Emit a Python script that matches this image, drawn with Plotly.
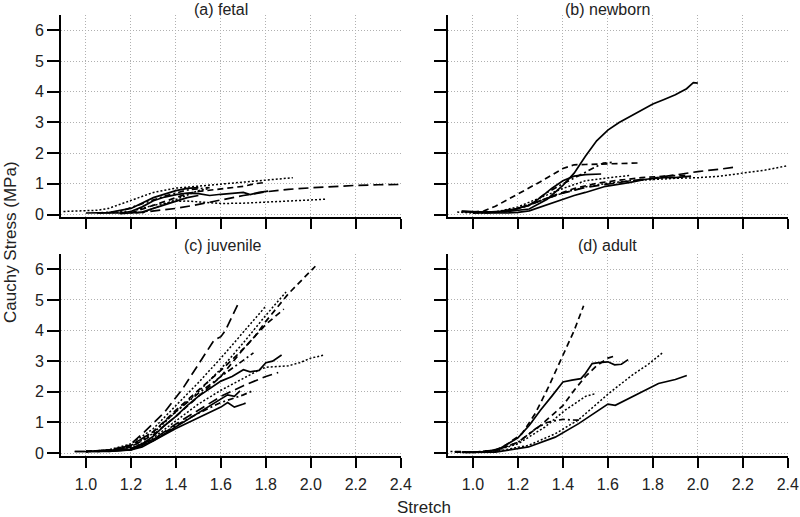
import plotly.graph_objects as go
from plotly.subplots import make_subplots

# ---------------- data ----------------
x_ticks = [1.0, 1.2, 1.4, 1.6, 1.8, 2.0, 2.2, 2.4]
y_ticks = [0, 1, 2, 3, 4, 5, 6]
panel_titles = ["(a) fetal", "(b) newborn", "(c) juvenile", "(d) adult"]
x_label = "Stretch"
y_label = "Cauchy Stress (MPa)"

# (a) fetal
fetal_1_x = [1.22, 1.3, 1.4, 1.48, 1.55, 1.6, 1.7, 1.8, 1.9, 2.0, 2.1, 2.2, 2.3, 2.4]
fetal_1_y = [0.05, 0.12, 0.2, 0.3, 0.4, 0.48, 0.62, 0.74, 0.82, 0.87, 0.92, 0.95, 0.97, 0.98]
fetal_2_x = [1.2, 1.3, 1.4, 1.46, 1.5, 1.6, 1.7, 1.75, 1.8]
fetal_2_y = [0.05, 0.3, 0.55, 0.7, 0.75, 0.83, 0.92, 1.0, 1.05]
fetal_3_x = [0.9, 1.0, 1.05, 1.1, 1.2, 1.3, 1.4, 1.5, 1.6, 1.7, 1.8, 1.92]
fetal_3_y = [0.1, 0.12, 0.14, 0.2, 0.45, 0.72, 0.86, 0.93, 1.0, 1.07, 1.12, 1.2]
fetal_4_x = [1.1, 1.2, 1.3, 1.4, 1.45, 1.5, 1.6, 1.7, 1.8, 1.9, 2.0, 2.07]
fetal_4_y = [0.05, 0.1, 0.3, 0.43, 0.44, 0.41, 0.36, 0.37, 0.41, 0.45, 0.48, 0.5]
fetal_5_x = [1.05, 1.15, 1.2, 1.25, 1.3, 1.35, 1.4, 1.45, 1.5, 1.55, 1.6, 1.65, 1.7, 1.73, 1.77, 1.81]
fetal_5_y = [0.05, 0.05, 0.1, 0.25, 0.45, 0.57, 0.65, 0.7, 0.68, 0.62, 0.66, 0.7, 0.72, 0.65, 0.72, 0.76]
fetal_6_x = [1.0, 1.1, 1.2, 1.3, 1.4, 1.45, 1.5]
fetal_6_y = [0.05, 0.06, 0.2, 0.55, 0.78, 0.85, 0.88]
fetal_7_x = [1.15, 1.25, 1.3, 1.35, 1.4, 1.45, 1.5]
fetal_7_y = [0.03, 0.08, 0.2, 0.32, 0.45, 0.55, 0.62]
fetal_8_x = [1.05, 1.15, 1.25, 1.35, 1.45, 1.55]
fetal_8_y = [0.05, 0.1, 0.35, 0.6, 0.8, 0.88]
fetal_9_x = [1.25, 1.3, 1.35, 1.4, 1.45, 1.5, 1.55]
fetal_9_y = [0.05, 0.2, 0.35, 0.5, 0.65, 0.78, 0.85]

# (b) newborn
newborn_1_x = [0.95, 1.05, 1.15, 1.25, 1.33, 1.4, 1.45, 1.5, 1.55, 1.6, 1.65, 1.7, 1.75, 1.8, 1.85, 1.9, 1.95, 1.98, 2.0]
newborn_1_y = [0.1, 0.08, 0.1, 0.18, 0.5, 0.95, 1.35, 1.9, 2.4, 2.75, 3.0, 3.2, 3.4, 3.6, 3.75, 3.9, 4.1, 4.3, 4.28]
newborn_2_x = [0.93, 1.0, 1.1, 1.2, 1.3, 1.4, 1.5, 1.6, 1.7, 1.8, 1.9, 2.0, 2.1, 2.2, 2.3, 2.42]
newborn_2_y = [0.08, 0.05, 0.08, 0.2, 0.45, 0.7, 0.9, 1.02, 1.1, 1.15, 1.18, 1.2, 1.25, 1.35, 1.45, 1.62]
newborn_3_x = [1.0, 1.1, 1.2, 1.3, 1.4, 1.5, 1.6, 1.7, 1.8, 1.9, 2.0, 2.1, 2.17]
newborn_3_y = [0.05, 0.08, 0.2, 0.45, 0.7, 0.88, 1.0, 1.1, 1.18, 1.3, 1.4, 1.48, 1.55]
newborn_4_x = [1.0, 1.05, 1.1, 1.2, 1.3, 1.4, 1.45, 1.5, 1.55, 1.6, 1.65, 1.7, 1.74]
newborn_4_y = [0.08, 0.12, 0.27, 0.67, 1.07, 1.5, 1.62, 1.63, 1.64, 1.65, 1.66, 1.67, 1.68]
newborn_5_x = [1.0, 1.15, 1.25, 1.33, 1.4, 1.5, 1.58, 1.62]
newborn_5_y = [0.05, 0.1, 0.3, 0.72, 1.0, 1.38, 1.68, 1.7]
newborn_6_x = [0.95, 1.05, 1.15, 1.25, 1.3, 1.35, 1.4, 1.45, 1.5, 1.57]
newborn_6_y = [0.1, 0.08, 0.1, 0.3, 0.55, 0.85, 1.1, 1.25, 1.3, 1.32]
newborn_7_x = [0.95, 1.05, 1.15, 1.2, 1.25, 1.3, 1.37, 1.45, 1.5, 1.59, 1.7, 1.77, 1.85, 1.9, 1.97]
newborn_7_y = [0.1, 0.05, 0.05, 0.07, 0.12, 0.25, 0.43, 0.62, 0.72, 0.92, 1.05, 1.15, 1.2, 1.2, 1.25]
newborn_8_x = [1.0, 1.1, 1.2, 1.3, 1.4, 1.5, 1.6, 1.7]
newborn_8_y = [0.05, 0.08, 0.25, 0.55, 0.85, 1.1, 1.2, 1.28]
newborn_9_x = [1.05, 1.15, 1.25, 1.35, 1.45, 1.55, 1.65, 1.75, 1.85, 1.95]
newborn_9_y = [0.05, 0.1, 0.3, 0.6, 0.85, 1.02, 1.12, 1.2, 1.25, 1.28]

# (c) juvenile
juvenile_1_x = [0.95, 1.05, 1.15, 1.2, 1.26, 1.35, 1.43, 1.51, 1.57, 1.6, 1.62, 1.674]
juvenile_1_y = [0.05, 0.05, 0.12, 0.3, 0.69, 1.34, 2.1, 3.03, 3.69, 3.8, 4.0, 4.83]
juvenile_2_x = [1.0, 1.1, 1.2, 1.3, 1.4, 1.5, 1.6, 1.7, 1.75, 1.8, 1.9, 2.0, 2.02]
juvenile_2_y = [0.05, 0.08, 0.2, 0.6, 1.2, 1.85, 2.5, 3.4, 3.8, 4.3, 5.2, 5.95, 6.1]
juvenile_3_x = [1.0, 1.1, 1.2, 1.3, 1.4, 1.5, 1.6, 1.7, 1.8, 1.89]
juvenile_3_y = [0.05, 0.08, 0.2, 0.65, 1.35, 2.0, 2.75, 3.6, 4.5, 5.26]
juvenile_4_x = [1.0, 1.1, 1.2, 1.3, 1.4, 1.5, 1.6, 1.7, 1.8, 1.88]
juvenile_4_y = [0.05, 0.1, 0.25, 0.7, 1.4, 2.05, 2.7, 3.4, 4.2, 4.7]
juvenile_5_x = [1.0, 1.1, 1.2, 1.3, 1.4, 1.5, 1.6, 1.7, 1.8]
juvenile_5_y = [0.05, 0.1, 0.3, 0.8, 1.55, 2.3, 3.1, 3.95, 4.8]
juvenile_6_x = [1.0, 1.1, 1.2, 1.3, 1.4, 1.5, 1.6, 1.7, 1.745]
juvenile_6_y = [0.05, 0.08, 0.25, 0.7, 1.35, 1.95, 2.5, 3.05, 3.27]
juvenile_7_x = [0.95, 1.1, 1.2, 1.25, 1.3, 1.35, 1.4, 1.45, 1.5, 1.55, 1.6, 1.65, 1.7, 1.73, 1.77, 1.8, 1.83, 1.87]
juvenile_7_y = [0.05, 0.05, 0.12, 0.3, 0.55, 0.9, 1.2, 1.55, 1.85, 2.1, 2.35, 2.5, 2.72, 2.65, 2.7, 2.95, 3.0, 3.2]
juvenile_8_x = [1.0, 1.1, 1.2, 1.3, 1.4, 1.5, 1.6, 1.7, 1.78, 1.8, 1.9, 1.95, 2.0, 2.06]
juvenile_8_y = [0.05, 0.08, 0.15, 0.5, 1.05, 1.6, 2.05, 2.45, 2.75, 2.8, 2.85, 2.95, 3.1, 3.2]
juvenile_9_x = [1.0, 1.2, 1.3, 1.4, 1.5, 1.6, 1.7, 1.8, 1.855]
juvenile_9_y = [0.05, 0.15, 0.45, 0.95, 1.4, 1.85, 2.2, 2.5, 2.63]
juvenile_10_x = [1.05, 1.2, 1.3, 1.4, 1.5, 1.6, 1.63, 1.66, 1.685]
juvenile_10_y = [0.05, 0.1, 0.4, 0.85, 1.3, 1.75, 1.9, 1.85, 2.03]
juvenile_11_x = [1.0, 1.2, 1.3, 1.4, 1.5, 1.6, 1.7, 1.74]
juvenile_11_y = [0.05, 0.12, 0.45, 0.9, 1.3, 1.65, 1.9, 2.03]
juvenile_12_x = [1.1, 1.2, 1.25, 1.3, 1.4, 1.5, 1.6, 1.63, 1.66, 1.7, 1.71]
juvenile_12_y = [0.05, 0.1, 0.2, 0.4, 0.8, 1.15, 1.5, 1.65, 1.5, 1.6, 1.63]

# (d) adult
adult_1_x = [0.92, 1.0, 1.1, 1.144, 1.218, 1.277, 1.336, 1.403, 1.45, 1.492]
adult_1_y = [0.03, 0.02, 0.1, 0.25, 0.63, 1.29, 2.16, 3.25, 4.0, 4.81]
adult_2_x = [0.95, 1.05, 1.12, 1.2, 1.25, 1.3, 1.35, 1.4, 1.44, 1.48, 1.5, 1.53, 1.56, 1.6, 1.63, 1.66, 1.69]
adult_2_y = [0.03, 0.03, 0.15, 0.5, 0.9, 1.4, 1.85, 2.32, 2.38, 2.43, 2.6, 2.92, 2.95, 2.98, 2.88, 2.9, 3.05]
adult_3_x = [1.0, 1.1, 1.2, 1.3, 1.4, 1.45, 1.5, 1.55, 1.6, 1.63]
adult_3_y = [0.02, 0.08, 0.35, 0.9, 1.55, 2.05, 2.5, 2.85, 3.1, 3.17]
adult_4_x = [1.0, 1.1, 1.2, 1.32, 1.41, 1.47, 1.5, 1.544]
adult_4_y = [0.02, 0.08, 0.3, 0.85, 1.4, 1.72, 1.85, 1.94]
adult_5_x = [0.92, 1.0, 1.1, 1.2, 1.28, 1.33, 1.36, 1.4, 1.44, 1.48]
adult_5_y = [0.05, 0.03, 0.08, 0.35, 0.8, 1.0, 1.05, 1.1, 1.08, 1.07]
adult_6_x = [0.9, 1.0, 1.1, 1.247, 1.366, 1.47, 1.603, 1.707, 1.78, 1.847]
adult_6_y = [0.05, 0.02, 0.05, 0.25, 0.63, 1.09, 1.94, 2.54, 2.9, 3.3]
adult_7_x = [0.95, 1.1, 1.247, 1.366, 1.47, 1.544, 1.6, 1.633, 1.707, 1.825, 1.9, 1.951]
adult_7_y = [0.02, 0.03, 0.2, 0.52, 0.96, 1.34, 1.6, 1.56, 1.83, 2.27, 2.4, 2.53]

panels = [
    [(fetal_1_x, fetal_1_y), (fetal_2_x, fetal_2_y), (fetal_3_x, fetal_3_y),
     (fetal_4_x, fetal_4_y), (fetal_5_x, fetal_5_y), (fetal_6_x, fetal_6_y),
     (fetal_7_x, fetal_7_y), (fetal_8_x, fetal_8_y), (fetal_9_x, fetal_9_y)],
    [(newborn_1_x, newborn_1_y), (newborn_2_x, newborn_2_y), (newborn_3_x, newborn_3_y),
     (newborn_4_x, newborn_4_y), (newborn_5_x, newborn_5_y), (newborn_6_x, newborn_6_y),
     (newborn_7_x, newborn_7_y), (newborn_8_x, newborn_8_y), (newborn_9_x, newborn_9_y)],
    [(juvenile_1_x, juvenile_1_y), (juvenile_2_x, juvenile_2_y), (juvenile_3_x, juvenile_3_y),
     (juvenile_4_x, juvenile_4_y), (juvenile_5_x, juvenile_5_y), (juvenile_6_x, juvenile_6_y),
     (juvenile_7_x, juvenile_7_y), (juvenile_8_x, juvenile_8_y), (juvenile_9_x, juvenile_9_y),
     (juvenile_10_x, juvenile_10_y), (juvenile_11_x, juvenile_11_y), (juvenile_12_x, juvenile_12_y)],
    [(adult_1_x, adult_1_y), (adult_2_x, adult_2_y), (adult_3_x, adult_3_y),
     (adult_4_x, adult_4_y), (adult_5_x, adult_5_y), (adult_6_x, adult_6_y),
     (adult_7_x, adult_7_y)],
]

# ---------------- styles ----------------
DOT = "2px,2px"
DASH = "6px,4px"
LDASH = "10px,5px"
DASHDOT = "6px,3px,2px,3px"
SOLID = "solid"

panel_styles = [
    [LDASH, DASH, DOT, DOT, SOLID, SOLID, SOLID, DASHDOT, DOT],
    [SOLID, DOT, LDASH, DASH, DASHDOT, SOLID, SOLID, DOT, DASH],
    [LDASH, DASH, DOT, DASH, DOT, DASHDOT, SOLID, DOT, LDASH, SOLID, DASHDOT, SOLID],
    [DASH, SOLID, DASH, DOT, DASHDOT, DOT, SOLID],
]

FONT = "Liberation Sans, Arial, sans-serif"

fig = make_subplots(rows=2, cols=2)
positions = [(1, 1), (1, 2), (2, 1), (2, 2)]
for p, (r, c) in enumerate(positions):
    for (xs, ys), dash in zip(panels[p], panel_styles[p]):
        w = 1.5 if dash == DOT else 1.7
        fig.add_trace(go.Scatter(x=xs, y=ys, mode="lines",
                                 line=dict(color="black", width=w, dash=dash),
                                 showlegend=False, hoverinfo="skip"),
                      row=r, col=c)

x_dom = {1: [61 / 800, 401 / 800], 2: [448 / 800, 788 / 800]}
y_dom = {1: [(517 - 217) / 517, (517 - 15) / 517], 2: [(517 - 455.5) / 517, (517 - 254) / 517]}

axis_common = dict(showline=True, linecolor="black", linewidth=2,
                   ticks="outside", tickwidth=2, tickcolor="black",
                   showgrid=True, gridcolor="#b0b0b0", gridwidth=1, griddash="1px,2px",
                   zeroline=False, automargin=False,
                   tickfont=dict(family=FONT, size=16, color="#222222"))

for p, (r, c) in enumerate(positions):
    fig.update_xaxes(domain=x_dom[c], range=[0.889, 2.401], tickvals=x_ticks,
                     ticktext=[f"{v:.1f}" for v in x_ticks], ticklen=10,
                     ticklabelstandoff=3,
                     showticklabels=(r == 2), row=r, col=c, **axis_common)
    fig.update_yaxes(domain=y_dom[r], range=[-0.08, 6.5], tickvals=y_ticks, ticklen=12,
                     showticklabels=(c == 1), row=r, col=c, **axis_common)

title_pos = [(221, 9), (607, 9), (222, 245), (607, 245)]
annotations = []
for t, (px, py) in zip(panel_titles, title_pos):
    annotations.append(dict(text=t, x=px / 800, y=1 - py / 517, xref="paper", yref="paper",
                            xanchor="center", yanchor="middle", showarrow=False,
                            font=dict(family=FONT, size=16, color="#222222")))
annotations.append(dict(text=y_label, x=10 / 800, y=1 - 242 / 517, xref="paper", yref="paper",
                        xanchor="center", yanchor="middle", showarrow=False, textangle=-90,
                        font=dict(family=FONT, size=17, color="#222222")))
annotations.append(dict(text=x_label, x=424 / 800, y=1 - 507 / 517, xref="paper", yref="paper",
                        xanchor="center", yanchor="middle", showarrow=False,
                        font=dict(family=FONT, size=17, color="#222222")))

fig.update_layout(width=800, height=517, margin=dict(l=0, r=0, t=0, b=0),
                  paper_bgcolor="white", plot_bgcolor="white",
                  annotations=annotations, font=dict(family=FONT))

fig.write_html("out.html", config={"displayModeBar": False, "staticPlot": True},
               post_script="document.body.style.margin='0px';document.body.style.overflow='hidden';")
